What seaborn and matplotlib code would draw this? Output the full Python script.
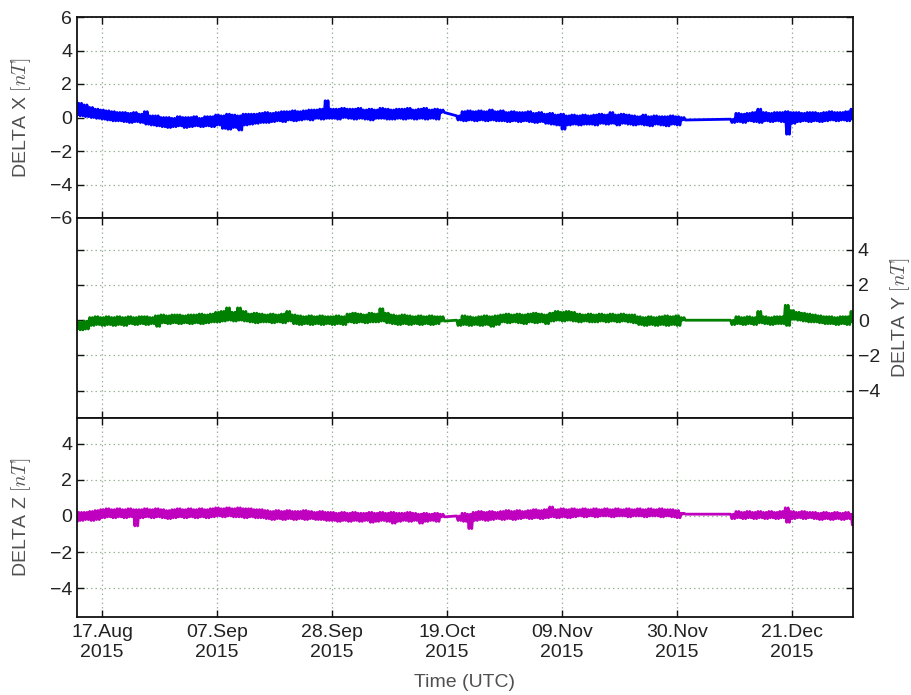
import numpy as np
import pandas as pd
import matplotlib
matplotlib.use("Agg")
import matplotlib.pyplot as plt
import matplotlib.dates as mdates
import seaborn as sns

# Observation periods (daily), separated by two data gaps
SEGMENTS = [("2015-08-12", "2015-10-18"),
            ("2015-10-21", "2015-12-01"),
            ("2015-12-10", "2016-01-01")]

# Daily upper / lower envelope of each difference component [nT]
X_HIGH = [1.05, 0.85, 0.75, 0.6, 0.5, 0.45, 0.4, 0.35, 0.3, 0.3,
          0.25, 0.3, 0.2, 0.35, 0.1, 0.1, 0.0, 0.0, -0.05, 0.05,
          0.0, 0.0, 0.05, -0.05, 0.05, 0.05, 0.15, 0.1, 0.2, 0.15,
          0.1, 0.2, 0.2, 0.2, 0.25, 0.3, 0.25, 0.3, 0.35, 0.35,
          0.4, 0.35, 0.4, 0.45, 0.45, 0.5, 1.0, 0.5, 0.5, 0.55,
          0.5, 0.5, 0.55, 0.45, 0.5, 0.45, 0.55, 0.5, 0.45, 0.5,
          0.5, 0.55, 0.45, 0.5, 0.55, 0.45, 0.5, 0.45,
          0.1, 0.35, 0.4, 0.35, 0.4, 0.35, 0.45, 0.35, 0.4, 0.3,
          0.35, 0.3, 0.3, 0.35, 0.25, 0.3, 0.2, 0.25, 0.15, 0.2,
          0.1, 0.15, 0.1, 0.15, 0.1, 0.15, 0.2, 0.15, 0.3, 0.15,
          0.2, 0.15, 0.1, 0.05, 0.15, 0.05, 0.1, 0.05, 0.05, 0.1,
          0.05, 0.0,
          -0.1, 0.25, 0.2, 0.25, 0.3, 0.5, 0.3, 0.25, 0.3, 0.3,
          0.35, 0.3, 0.3, 0.25, 0.3, 0.3, 0.25, 0.3, 0.35, 0.3,
          0.3, 0.35, 0.5]
X_LOW = [0.15, 0.1, 0.05, 0.0, -0.05, -0.1, -0.15, -0.2, -0.2, -0.25,
         -0.3, -0.25, -0.3, -0.4, -0.45, -0.5, -0.55, -0.6, -0.55, -0.5,
         -0.6, -0.55, -0.5, -0.55, -0.5, -0.55, -0.45, -0.65, -0.7, -0.6,
         -0.75, -0.45, -0.4, -0.35, -0.3, -0.3, -0.25, -0.2, -0.25, -0.15,
         -0.2, -0.15, -0.1, -0.15, -0.05, -0.1, -0.05, -0.05, -0.1, 0.0,
         -0.05, -0.1, -0.05, -0.1, -0.15, -0.05, -0.05, -0.1, -0.1, -0.05,
         -0.1, -0.05, -0.1, -0.05, -0.1, -0.05, -0.1, 0.3,
         -0.15, -0.2, -0.15, -0.2, -0.15, -0.2, -0.15, -0.2, -0.2, -0.25,
         -0.2, -0.25, -0.2, -0.25, -0.3, -0.25, -0.35, -0.4, -0.45, -0.7,
         -0.45, -0.4, -0.45, -0.4, -0.4, -0.45, -0.35, -0.4, -0.35, -0.45,
         -0.35, -0.4, -0.45, -0.4, -0.45, -0.5, -0.4, -0.45, -0.5, -0.4,
         -0.45, -0.15,
         -0.3, -0.25, -0.3, -0.2, -0.25, -0.3, -0.2, -0.25, -0.2, -0.25,
         -1.0, -0.35, -0.25, -0.2, -0.25, -0.2, -0.25, -0.2, -0.15, -0.2,
         -0.15, -0.2, -0.1]

Y_HIGH = [-0.05, -0.1, -0.05, 0.15, 0.2, 0.15, 0.2, 0.15, 0.2, 0.15,
          0.2, 0.15, 0.2, 0.2, 0.15, 0.25, 0.3, 0.25, 0.3, 0.3,
          0.25, 0.3, 0.3, 0.35, 0.3, 0.35, 0.45, 0.5, 0.7, 0.45,
          0.7, 0.5, 0.35, 0.4, 0.35, 0.3, 0.35, 0.3, 0.35, 0.5,
          0.3, 0.25, 0.2, 0.25, 0.2, 0.25, 0.2, 0.2, 0.25, 0.2,
          0.35, 0.4, 0.35, 0.3, 0.4, 0.35, 0.65, 0.4, 0.3, 0.25,
          0.3, 0.25, 0.2, 0.25, 0.2, 0.25, 0.2, 0.2,
          0.0, 0.25, 0.2, 0.15, 0.2, 0.25, 0.2, 0.25, 0.3, 0.35,
          0.3, 0.35, 0.3, 0.35, 0.4, 0.35, 0.3, 0.4, 0.5, 0.45,
          0.5, 0.45, 0.35, 0.3, 0.35, 0.3, 0.35, 0.3, 0.35, 0.3,
          0.35, 0.3, 0.3, 0.2, 0.15, 0.2, 0.15, 0.2, 0.25, 0.2,
          0.25, 0.15,
          0.0, 0.2, 0.15, 0.2, 0.15, 0.5, 0.2, 0.15, 0.2, 0.2,
          0.85, 0.55, 0.45, 0.4, 0.35, 0.3, 0.25, 0.2, 0.2, 0.15,
          0.2, 0.2, 0.5]
Y_LOW = [-0.5, -0.55, -0.5, -0.3, -0.25, -0.3, -0.25, -0.3, -0.25, -0.3,
         -0.2, -0.25, -0.2, -0.25, -0.2, -0.35, -0.15, -0.2, -0.15, -0.2,
         -0.15, -0.2, -0.15, -0.2, -0.15, -0.1, -0.1, -0.05, 0.0, -0.05,
         0.0, -0.05, -0.1, -0.15, -0.1, -0.1, -0.15, -0.1, -0.15, -0.05,
         -0.2, -0.25, -0.2, -0.25, -0.2, -0.25, -0.2, -0.25, -0.2, -0.25,
         -0.1, -0.15, -0.1, -0.15, -0.1, -0.1, -0.05, -0.15, -0.2, -0.25,
         -0.2, -0.25, -0.2, -0.25, -0.2, -0.25, -0.2, -0.05,
         -0.3, -0.25, -0.3, -0.25, -0.3, -0.25, -0.35, -0.25, -0.1, -0.15,
         -0.1, -0.15, -0.2, -0.1, -0.15, -0.1, -0.2, -0.05, 0.0, -0.05,
         0.0, -0.05, -0.1, -0.05, -0.1, -0.1, -0.05, -0.1, -0.05, -0.1,
         -0.05, -0.1, -0.15, -0.25, -0.3, -0.25, -0.3, -0.25, -0.3, -0.25,
         -0.3, 0.0,
         -0.25, -0.2, -0.25, -0.2, -0.25, -0.15, -0.2, -0.25, -0.2, -0.2,
         -0.3, 0.05, 0.0, -0.05, -0.1, -0.1, -0.15, -0.2, -0.2, -0.25,
         -0.2, -0.25, -0.1]

Z_HIGH = [0.25, 0.2, 0.2, 0.25, 0.3, 0.35, 0.4, 0.35, 0.4, 0.35,
          0.4, 0.35, 0.35, 0.4, 0.35, 0.4, 0.35, 0.3, 0.35, 0.4,
          0.35, 0.4, 0.35, 0.4, 0.35, 0.4, 0.45, 0.4, 0.45, 0.4,
          0.45, 0.4, 0.4, 0.35, 0.35, 0.3, 0.25, 0.3, 0.25, 0.3,
          0.25, 0.25, 0.3, 0.25, 0.2, 0.25, 0.2, 0.2, 0.15, 0.2,
          0.15, 0.2, 0.15, 0.15, 0.2, 0.15, 0.2, 0.15, 0.2, 0.15,
          0.15, 0.2, 0.15, 0.1, 0.15, 0.1, 0.15, 0.1,
          0.0, 0.15, 0.1, 0.2, 0.25, 0.2, 0.25, 0.2, 0.25, 0.3,
          0.25, 0.3, 0.25, 0.3, 0.35, 0.3, 0.35, 0.5, 0.35, 0.4,
          0.35, 0.4, 0.35, 0.4, 0.35, 0.4, 0.35, 0.4, 0.35, 0.4,
          0.35, 0.4, 0.35, 0.4, 0.35, 0.4, 0.35, 0.4, 0.35, 0.35,
          0.3, 0.15,
          0.1, 0.25, 0.2, 0.25, 0.2, 0.25, 0.2, 0.25, 0.2, 0.25,
          0.45, 0.25, 0.2, 0.25, 0.2, 0.2, 0.15, 0.2, 0.15, 0.2,
          0.15, 0.2, 0.1]
Z_LOW = [-0.3, -0.25, -0.2, -0.25, -0.2, -0.1, -0.05, -0.1, -0.05, -0.1,
         -0.05, -0.55, -0.1, -0.05, -0.1, -0.05, -0.1, -0.15, -0.1, -0.05,
         -0.1, -0.05, -0.1, -0.05, -0.1, -0.05, 0.0, -0.05, 0.0, -0.05,
         -0.05, -0.1, -0.05, -0.1, -0.1, -0.15, -0.2, -0.15, -0.2, -0.15,
         -0.2, -0.15, -0.2, -0.15, -0.2, -0.2, -0.25, -0.25, -0.3, -0.25,
         -0.3, -0.25, -0.3, -0.25, -0.35, -0.3, -0.25, -0.3, -0.4, -0.3,
         -0.25, -0.3, -0.25, -0.4, -0.3, -0.25, -0.3, -0.05,
         -0.25, -0.3, -0.7, -0.25, -0.2, -0.25, -0.2, -0.15, -0.2, -0.15,
         -0.2, -0.15, -0.1, -0.15, -0.1, -0.15, -0.1, -0.05, -0.1, -0.05,
         -0.1, -0.05, 0.0, -0.05, 0.0, -0.05, 0.0, 0.0, -0.05, 0.0,
         0.0, -0.05, 0.0, 0.0, -0.05, 0.0, 0.0, -0.05, 0.0, -0.05,
         -0.1, 0.1,
         -0.15, -0.1, -0.15, -0.1, -0.15, -0.1, -0.15, -0.1, -0.15, -0.1,
         -0.35, -0.15, -0.1, -0.15, -0.1, -0.15, -0.2, -0.15, -0.2, -0.15,
         -0.2, -0.15, -0.5]

COMPONENTS = ["X", "Y", "Z"]
COLORS = ["#0000ff", "#008000", "#bf00bf"]
YLIMS = [(-6.0, 6.0), (-5.55, 5.8), (-5.6, 5.43)]
TICK_DATES = ["2015-08-17", "2015-09-07", "2015-09-28", "2015-10-19",
              "2015-11-09", "2015-11-30", "2015-12-21"]
X_RANGE = ("2015-08-12 10:20", "2016-01-01 02:30")

# ---------------------------------------------------------------------------
# Each day is traced as a quick swing between its upper and lower envelope
# (high, low, high, low every six hours), which renders as a solid band.
days = pd.DatetimeIndex(np.concatenate(
    [pd.date_range(a, b, freq="D").values for a, b in SEGMENTS]))
offsets = [pd.Timedelta(hours=h) for h in (-6, 0, 6, 12)]
n = len(days)
times = np.empty(4 * n, dtype="datetime64[ns]")
for k, off in enumerate(offsets):
    times[k::4] = (days + off).values

frames = []
for comp, hi, lo in zip(COMPONENTS, [X_HIGH, Y_HIGH, Z_HIGH],
                        [X_LOW, Y_LOW, Z_LOW]):
    assert len(hi) == n and len(lo) == n, comp
    vals = np.empty(4 * n)
    vals[0::4] = hi
    vals[1::4] = lo
    vals[2::4] = hi
    vals[3::4] = lo
    frames.append(pd.DataFrame({"time": times, "delta": vals,
                                "component": comp}))
data = pd.concat(frames, ignore_index=True)

sns.set_theme(style="ticks")
plt.rcParams["font.family"] = ["Liberation Sans", "DejaVu Sans"]
plt.rcParams["mathtext.fontset"] = "cm"

fig = plt.figure(figsize=(9.12, 6.95), dpi=100)
W, H = 912.0, 695.0
left, right = 77 / W, 853 / W
rows = [(17, 218), (218, 418), (418, 617)]
axes = [fig.add_axes([left, 1 - b / H, right - left, (b - t) / H])
        for t, b in rows]

grid_kw = dict(color="#9db59d", linestyle=(0, (1.2, 2.4)), linewidth=0.9)
label_color = "#505050"
xmin, xmax = pd.Timestamp(X_RANGE[0]), pd.Timestamp(X_RANGE[1])
ticks = [pd.Timestamp(t) for t in TICK_DATES]

for i, (ax, comp, col, ylim) in enumerate(zip(axes, COMPONENTS, COLORS, YLIMS)):
    sub = data[data["component"] == comp]
    sns.lineplot(data=sub, x="time", y="delta", color=col, linewidth=2.0,
                 sort=False, estimator=None, ax=ax)
    ax.set_xlim(xmin, xmax)
    ax.set_ylim(*ylim)
    ax.set_xticks(ticks)
    ax.xaxis.set_major_formatter(mdates.DateFormatter("%d.%b\n%Y"))
    ax.set_yticks(np.arange(-6, 7, 2) if i == 0 else np.arange(-4, 5, 2))
    ax.grid(True, **grid_kw)
    ax.set_axisbelow(True)
    for s in ax.spines.values():
        s.set_visible(True)
        s.set_color("#111111")
        s.set_linewidth(1.3)
    ax.tick_params(direction="in", length=5, width=1.0, color="#111111",
                   labelsize=14, labelcolor="#222222",
                   top=True, bottom=True, left=True, right=True)
    label = "DELTA %s $[nT]$" % comp
    if i == 1:
        ax.tick_params(labelleft=False, labelright=True)
        ax.yaxis.set_label_position("right")
        ax.set_ylabel(label, fontsize=14, color=label_color, labelpad=6)
    else:
        ax.set_ylabel(label, fontsize=14, color=label_color, labelpad=12)
    if i < 2:
        ax.tick_params(labelbottom=False)
        ax.set_xlabel("")
    else:
        ax.tick_params(axis="x", pad=5)
        ax.set_xlabel("Time (UTC)", fontsize=14, color=label_color,
                      labelpad=10)

fig.savefig("out.png", dpi=100)
